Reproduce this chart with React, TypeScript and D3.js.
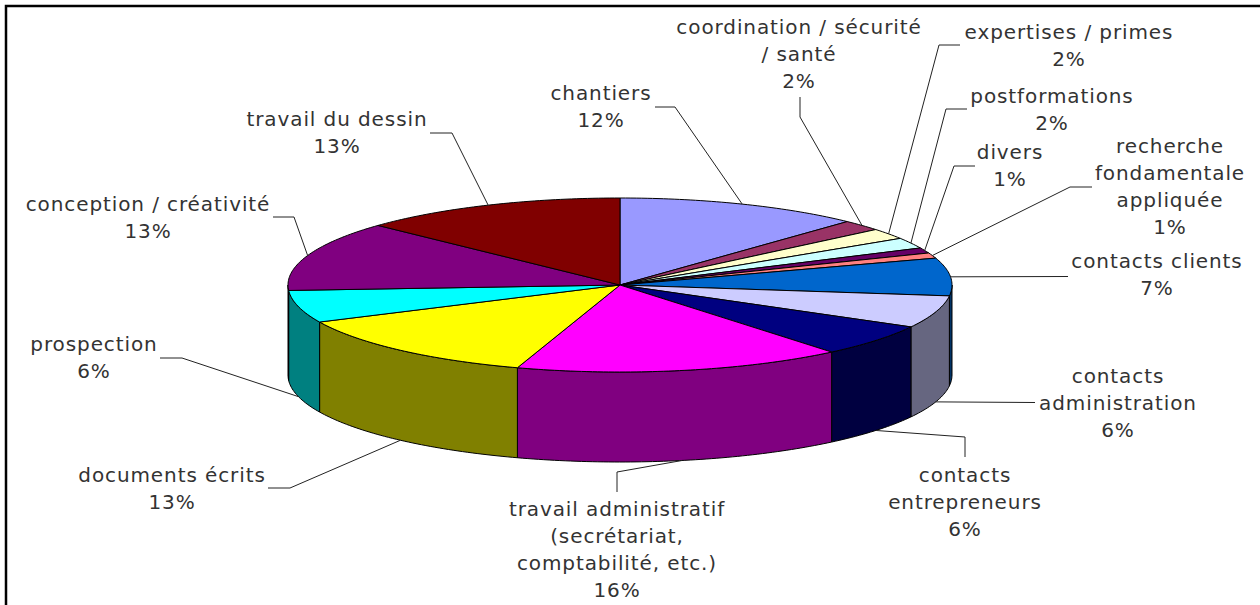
import React from "react";
import * as d3 from "d3";

// Share of working time per activity, clockwise from the top of the disc.
const categories = [
  "chantiers",
  "coordination / sécurité / santé",
  "expertises / primes",
  "postformations",
  "divers",
  "recherche fondamentale appliquée",
  "contacts clients",
  "contacts administration",
  "contacts entrepreneurs",
  "travail administratif (secrétariat, comptabilité, etc.)",
  "documents écrits",
  "prospection",
  "conception / créativité",
  "travail du dessin",
];
const shares = [12, 2, 2, 2, 1, 1, 7, 6, 6, 16, 13, 6, 13, 13];
const topColors = [
  "#9999ff", "#993366", "#ffffcc", "#ccffff", "#660066", "#ff8080", "#0066cc",
  "#ccccff", "#000080", "#ff00ff", "#ffff00", "#00ffff", "#800080", "#800000",
];
const wallColors = [
  "#4d4d80", "#4d1a33", "#808066", "#668080", "#330033", "#804040", "#003366",
  "#666680", "#000040", "#800080", "#808000", "#008080", "#400040", "#400000",
];

// Label placement: wrapped lines, centre x, first baseline, leader elbow(s).
type Placement = { lines: string[]; cx: number; y: number; leader: [number, number][] };
const placements: Placement[] = [
  { lines: ["chantiers"], cx: 601, y: 100, leader: [[655, 107], [675, 107]] },
  { lines: ["coordination / sécurité", "/ santé"], cx: 799, y: 34, leader: [[800, 97], [800, 117]] },
  { lines: ["expertises / primes"], cx: 1069, y: 39, leader: [[960, 45], [939, 45]] },
  { lines: ["postformations"], cx: 1052, y: 103, leader: [[967, 109], [946, 109]] },
  { lines: ["divers"], cx: 1010, y: 159, leader: [[975, 166], [954, 166]] },
  { lines: ["recherche", "fondamentale", "appliquée"], cx: 1170, y: 153, leader: [[1092, 187], [1070, 187]] },
  { lines: ["contacts clients"], cx: 1157, y: 268, leader: [[1068, 276.5]] },
  { lines: ["contacts", "administration"], cx: 1118, y: 383, leader: [[1035, 402.5]] },
  { lines: ["contacts", "entrepreneurs"], cx: 965, y: 482, leader: [[965, 457], [965, 437]] },
  { lines: ["travail administratif", "(secrétariat,", "comptabilité, etc.)"], cx: 617, y: 516, leader: [[617, 492], [617, 472]] },
  { lines: ["documents écrits"], cx: 172, y: 482, leader: [[268, 488], [290, 488]] },
  { lines: ["prospection"], cx: 94, y: 351, leader: [[160, 358], [182, 358]] },
  { lines: ["conception / créativité"], cx: 148, y: 211, leader: [[273, 217], [294, 217]] },
  { lines: ["travail du dessin"], cx: 337, y: 126, leader: [[430, 133], [452, 133]] },
];

const WIDTH = 1260;
const HEIGHT = 605;
const DEPTH = 90;
const LINE_STEP = 27;

// The disc is a unit circle squashed into an ellipse by these two scales.
const x = d3.scaleLinear().domain([-1, 1]).range([288, 952]);
const y = d3.scaleLinear().domain([-1, 1]).range([198, 372]);

const rim = (a: number, drop = 0): [number, number] => [x(Math.sin(a)), y(-Math.cos(a)) + drop];

const arcPoints = (a0: number, a1: number, drop = 0): [number, number][] => {
  const n = Math.max(2, Math.ceil((a1 - a0) * 60));
  return d3.range(n + 1).map((i) => rim(a0 + ((a1 - a0) * i) / n, drop));
};

const line = d3.line<[number, number]>();
const slices = d3.pie<number>().sort(null).value((d) => d)(shares);

export default function App() {
  return (
    <svg
      width={WIDTH}
      height={HEIGHT}
      style={{ position: "fixed", left: 0, top: 0, background: "#fff" }}
      fontFamily="'DejaVu Sans', sans-serif"
    >
      {/* The frame shows only along its top and left edges. */}
      <path d={`M6,${HEIGHT}V6H${WIDTH}`} fill="none" stroke="#000" strokeWidth={2.5} />

      {slices.map((s, i) => {
        // Only the part of the rim facing the viewer gets a wall.
        const a0 = Math.max(s.startAngle, Math.PI / 2);
        const a1 = Math.min(s.endAngle, (3 * Math.PI) / 2);
        if (a1 <= a0) return null;
        const d = line([...arcPoints(a0, a1), ...arcPoints(a0, a1, DEPTH).reverse()]) + "Z";
        return <path key={i} d={d} fill={wallColors[i]} stroke="#000" strokeWidth={1} />;
      })}

      {slices.map((s, i) => {
        const d = line([[x(0), y(0)], ...arcPoints(s.startAngle, s.endAngle)]) + "Z";
        return <path key={i} d={d} fill={topColors[i]} stroke="#000" strokeWidth={1} strokeLinejoin="round" />;
      })}

      {slices.map((s, i) => {
        const mid = (s.startAngle + s.endAngle) / 2;
        const front = Math.cos(mid) < 0;
        const end = rim(mid, front ? DEPTH : 0);
        return (
          <path
            key={i}
            d={line([...placements[i].leader, end]) ?? ""}
            fill="none"
            stroke="#222"
            strokeWidth={1}
          />
        );
      })}

      {slices.map((s, i) => {
        const p = placements[i];
        return (
          <text key={i} x={p.cx} y={p.y} textAnchor="middle" fontSize={20} letterSpacing={0.9} fill="#333">
            {[...p.lines, `${shares[i]}%`].map((t, k) => (
              <tspan key={k} x={p.cx} y={p.y + k * LINE_STEP} aria-label={k === 0 ? categories[i] : undefined}>
                {t}
              </tspan>
            ))}
          </text>
        );
      })}
    </svg>
  );
}
